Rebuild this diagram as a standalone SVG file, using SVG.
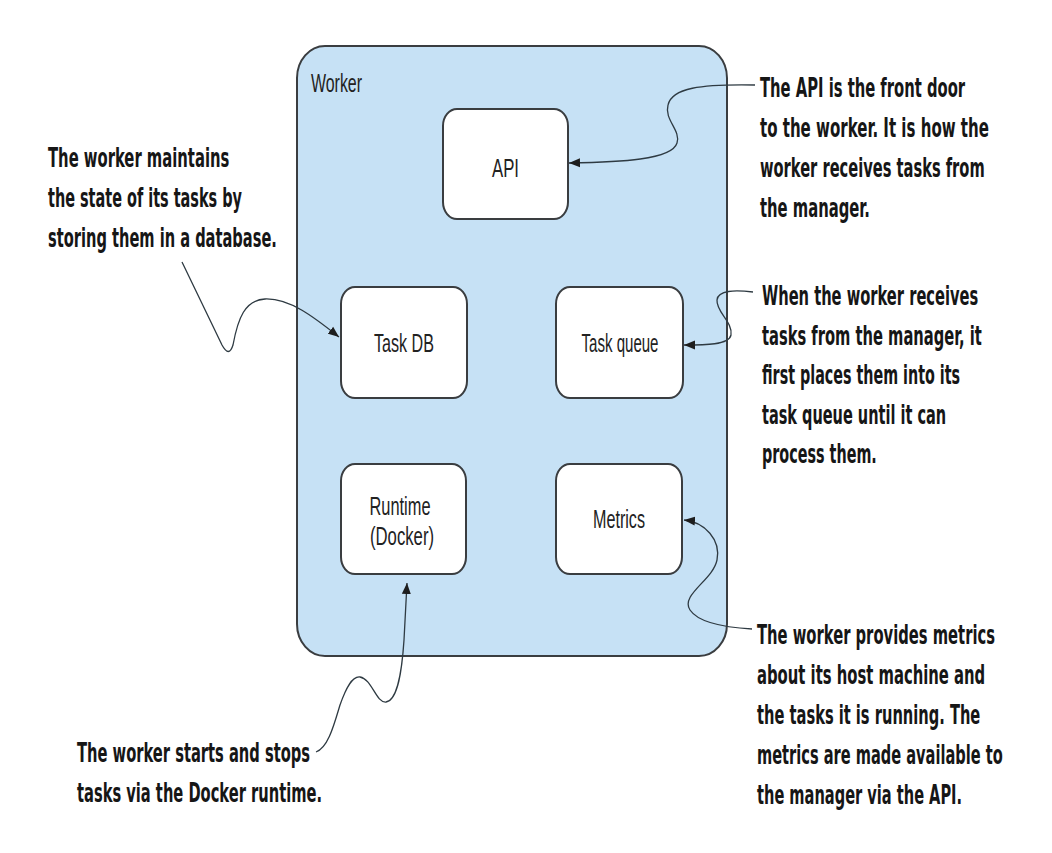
<svg xmlns="http://www.w3.org/2000/svg" width="1052" height="853" viewBox="0 0 1052 853">
<style>
.container{fill:#c6e1f5;stroke:#3a3d40;stroke-width:2}
.box{fill:#ffffff;stroke:#3a3d40;stroke-width:2}
.lbl{font-family:"Liberation Sans Narrow","Liberation Sans",Arial,sans-serif;font-size:25px;fill:#222;text-anchor:middle}
.wlbl{font-family:"Liberation Sans Narrow","Liberation Sans",Arial,sans-serif;font-size:25px;fill:#222}
.note{font-family:"Liberation Sans Narrow","DejaVu Sans Condensed","Liberation Sans",sans-serif;font-size:27px;font-weight:bold;fill:#161616}
.conn{fill:none;stroke:#2e3a42;stroke-width:1.3}
</style>
<defs>
<marker id="arr" markerUnits="userSpaceOnUse" markerWidth="12" markerHeight="10" refX="11" refY="5" orient="auto">
<path d="M0,0.5 L11,5 L0,9.5 z" fill="#1e1e1e"/>
</marker>
</defs>
<rect width="1052" height="853" fill="#ffffff"/>
<g id="worker">
<rect class="container" x="297" y="46" width="430" height="610" rx="28" ry="32"/>
<text class="wlbl" x="311" y="92" textLength="51" lengthAdjust="spacingAndGlyphs">Worker</text>
</g>
<g id="api">
<rect class="box" x="443" y="109" width="125" height="110" rx="14" ry="17"/>
<text class="lbl" x="505.5" y="177" textLength="27" lengthAdjust="spacingAndGlyphs">API</text>
</g>
<g id="taskdb">
<rect class="box" x="341" y="287" width="126" height="111" rx="14" ry="17"/>
<text class="lbl" x="404" y="352" textLength="60" lengthAdjust="spacingAndGlyphs">Task DB</text>
</g>
<g id="taskqueue">
<rect class="box" x="556" y="287" width="127" height="111" rx="14" ry="17"/>
<text class="lbl" x="620" y="352" textLength="77" lengthAdjust="spacingAndGlyphs">Task queue</text>
</g>
<g id="runtime">
<rect class="box" x="341" y="464" width="125" height="110" rx="14" ry="17"/>
<text class="lbl" x="400" y="515" textLength="61" lengthAdjust="spacingAndGlyphs">Runtime</text>
<text class="lbl" x="402" y="545" textLength="64" lengthAdjust="spacingAndGlyphs">(Docker)</text>
</g>
<g id="metrics">
<rect class="box" x="556" y="464" width="126" height="110" rx="14" ry="17"/>
<text class="lbl" x="619" y="528" textLength="52" lengthAdjust="spacingAndGlyphs">Metrics</text>
</g>
<g id="connectors">
<path class="conn" marker-end="url(#arr)" d="M755,85 C 700,84 672,88 668,105 C 664,120 681,130 677,143 C 672,160 620,162 569,163"/>
<path class="conn" marker-end="url(#arr)" d="M182,262 L222,345 Q229,358 233,345 C 238,318 245,300 265,299 C 290,298 315,318 339,337"/>
<path class="conn" marker-end="url(#arr)" d="M753,292 C 735,290 718,290 717,300 C 716,312 733,322 731,335 C 729,345 705,345 684,345"/>
<path class="conn" marker-end="url(#arr)" d="M752,629 C 735,628 700,625 690,610 C 680,595 713,580 717,560 C 721,540 705,522 684,520"/>
<path class="conn" marker-end="url(#arr)" d="M316,752 C 328,748 334,725 340,705 C 346,688 352,676 360,677 C 372,679 376,703 386,702 C 398,700 402,670 404,640 C 405,620 406,600 407,583"/>
</g>
<g id="note-api">
<text class="note" transform="translate(760,97) scale(0.7,1)" textLength="293" lengthAdjust="spacingAndGlyphs">The API is the front door</text>
<text class="note" transform="translate(760,137) scale(0.7,1)" textLength="327" lengthAdjust="spacingAndGlyphs">to the worker. It is how the</text>
<text class="note" transform="translate(760,177) scale(0.7,1)" textLength="321" lengthAdjust="spacingAndGlyphs">worker receives tasks from</text>
<text class="note" transform="translate(760,217) scale(0.7,1)" textLength="157" lengthAdjust="spacingAndGlyphs">the manager.</text>
</g>
<g id="note-db">
<text class="note" transform="translate(48,167) scale(0.7,1)" textLength="259" lengthAdjust="spacingAndGlyphs">The worker maintains</text>
<text class="note" transform="translate(48,207) scale(0.7,1)" textLength="277" lengthAdjust="spacingAndGlyphs">the state of its tasks by</text>
<text class="note" transform="translate(48,247) scale(0.7,1)" textLength="327" lengthAdjust="spacingAndGlyphs">storing them in a database.</text>
</g>
<g id="note-queue">
<text class="note" transform="translate(762,305) scale(0.7,1)" textLength="309" lengthAdjust="spacingAndGlyphs">When the worker receives</text>
<text class="note" transform="translate(762,345) scale(0.7,1)" textLength="314" lengthAdjust="spacingAndGlyphs">tasks from the manager, it</text>
<text class="note" transform="translate(762,384) scale(0.7,1)" textLength="283" lengthAdjust="spacingAndGlyphs">first places them into its</text>
<text class="note" transform="translate(762,424) scale(0.7,1)" textLength="263" lengthAdjust="spacingAndGlyphs">task queue until it can</text>
<text class="note" transform="translate(762,463) scale(0.7,1)" textLength="164" lengthAdjust="spacingAndGlyphs">process them.</text>
</g>
<g id="note-metrics">
<text class="note" transform="translate(757,644) scale(0.7,1)" textLength="340" lengthAdjust="spacingAndGlyphs">The worker provides metrics</text>
<text class="note" transform="translate(757,684) scale(0.7,1)" textLength="326" lengthAdjust="spacingAndGlyphs">about its host machine and</text>
<text class="note" transform="translate(757,724) scale(0.7,1)" textLength="319" lengthAdjust="spacingAndGlyphs">the tasks it is running. The</text>
<text class="note" transform="translate(757,764) scale(0.7,1)" textLength="351" lengthAdjust="spacingAndGlyphs">metrics are made available to</text>
<text class="note" transform="translate(757,804) scale(0.7,1)" textLength="293" lengthAdjust="spacingAndGlyphs">the manager via the API.</text>
</g>
<g id="note-runtime">
<text class="note" transform="translate(77,762) scale(0.7,1)" textLength="333" lengthAdjust="spacingAndGlyphs">The worker starts and stops</text>
<text class="note" transform="translate(77,802) scale(0.7,1)" textLength="350" lengthAdjust="spacingAndGlyphs">tasks via the Docker runtime.</text>
</g>
</svg>
